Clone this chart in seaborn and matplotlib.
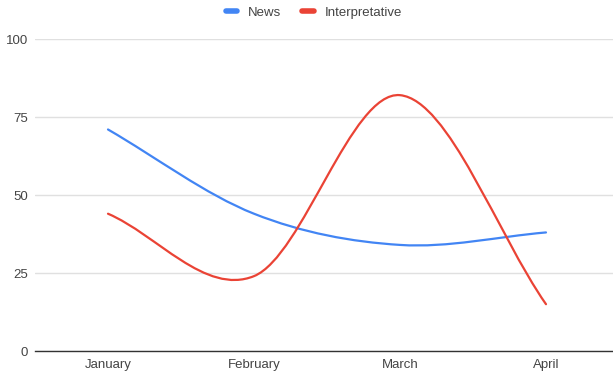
import numpy as np
import pandas as pd
import matplotlib
matplotlib.use("Agg")
import matplotlib.pyplot as plt
import seaborn as sns
from matplotlib.path import Path
from matplotlib.patches import PathPatch
from matplotlib.lines import Line2D

# Monthly scores per content type
months = ["January", "February", "March", "April"]
news = [71, 44, 34, 38]
interpretative = [44, 24, 82, 15]
series_names = ["News", "Interpretative"]
palette = {"News": "#4285F4", "Interpretative": "#EA4335"}
y_ticks = [0, 25, 50, 75, 100]

df = pd.DataFrame({
    "month": months * 2,
    "pos": list(range(len(months))) * 2,
    "value": news + interpretative,
    "series": ["News"] * len(months) + ["Interpretative"] * len(months),
})

sns.set_style("white")
plt.rcParams["font.family"] = ["Liberation Sans", "DejaVu Sans"]

W, H = 613, 373
fig = plt.figure(figsize=(W / 100, H / 100), dpi=100)
left_px, right_px, top_px, bottom_px = 35, 613, 39, 351
ax = fig.add_axes([left_px / W, 1 - bottom_px / H,
                   (right_px - left_px) / W, (bottom_px - top_px) / H])

sns.lineplot(data=df, x="pos", y="value", hue="series", hue_order=series_names,
             palette=palette, legend=False, ax=ax, linewidth=1.6)


def smooth_path(xs, ys):
    """Cubic Bezier (Catmull-Rom style) path through the given points."""
    xs = np.asarray(xs, float)
    ys = np.asarray(ys, float)
    n = len(xs)
    mx = np.empty(n)
    my = np.empty(n)
    for i in range(n):
        if i == 0:
            mx[i], my[i] = xs[1] - xs[0], ys[1] - ys[0]
        elif i == n - 1:
            mx[i], my[i] = xs[-1] - xs[-2], ys[-1] - ys[-2]
        else:
            mx[i], my[i] = (xs[i + 1] - xs[i - 1]) / 2, (ys[i + 1] - ys[i - 1]) / 2
    verts = [(xs[0], ys[0])]
    codes = [Path.MOVETO]
    for i in range(n - 1):
        verts += [(xs[i] + mx[i] / 3, ys[i] + my[i] / 3),
                  (xs[i + 1] - mx[i + 1] / 3, ys[i + 1] - my[i + 1] / 3),
                  (xs[i + 1], ys[i + 1])]
        codes += [Path.CURVE4] * 3
    return Path(verts, codes)


# Replace the straight segments by smooth curves through the same points
for line in list(ax.lines):
    x, y = line.get_xdata(), line.get_ydata()
    if len(x) < 2:
        continue
    patch = PathPatch(smooth_path(x, y), facecolor="none",
                      edgecolor=line.get_color(), linewidth=1.6,
                      capstyle="round", joinstyle="round", zorder=3,
                      clip_on=False)
    ax.add_patch(patch)
    line.set_visible(False)

ax.set_xlim(-0.5, -0.5 + (right_px - left_px) / 146)
ax.set_ylim(0, 100)
ax.set_xticks(range(len(months)))
ax.set_xticklabels(months)
ax.set_yticks(y_ticks)
ax.set_yticklabels([str(t) for t in y_ticks])
ax.set_xlabel("")
ax.set_ylabel("")
ax.tick_params(axis="both", length=0, labelsize=9.5, colors="#444444")
ax.tick_params(axis="y", pad=5)
ax.tick_params(axis="x", pad=6)

ax.grid(axis="y", color="#e0e0e0", linewidth=1)
ax.grid(axis="x", visible=False)
for s in ["top", "right", "left"]:
    ax.spines[s].set_visible(False)
ax.spines["bottom"].set_color("#333333")
ax.spines["bottom"].set_linewidth(1)
ax.set_axisbelow(True)

handles = [Line2D([0], [0], color=palette[s], linewidth=4, solid_capstyle="round")
           for s in series_names]
fig.legend(handles, series_names, loc="center", bbox_to_anchor=(0.512, 0.966),
           ncol=2, frameon=False, fontsize=9.5, handlelength=0.9,
           handletextpad=0.8, columnspacing=1.6, labelcolor="#444444")

fig.savefig("out.png", dpi=100)
